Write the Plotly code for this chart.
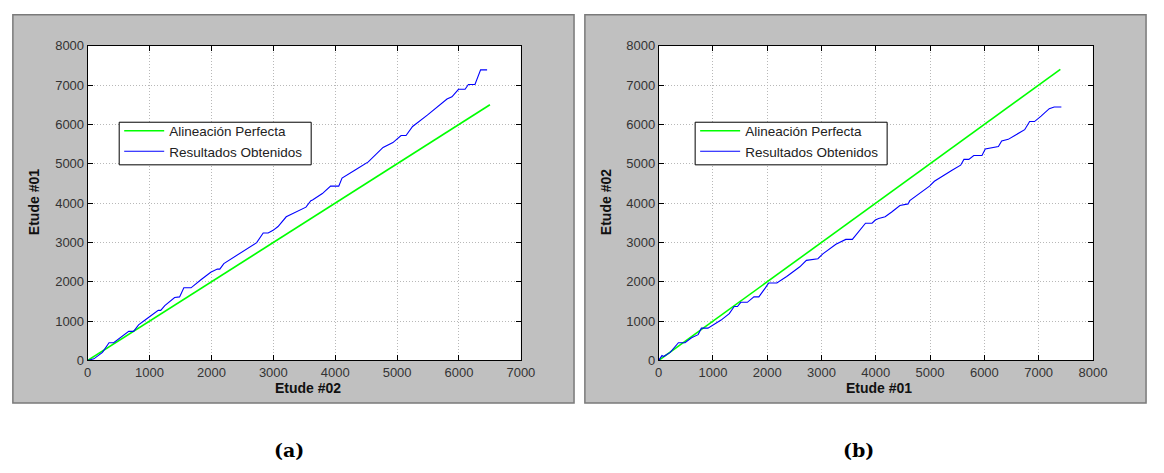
import plotly.graph_objects as go

W, H = 1164, 473

# ---------------- data ----------------
# Panel (a): x = Etude #02, y = Etude #01
perfect_a_x = [0, 6500]
perfect_a_y = [0, 6500]
res_a_x = [0, 100, 239, 345, 420, 583, 663, 742, 822, 928, 1140, 1180, 1246, 1405, 1485,
           1554, 1670, 1830, 1988, 2095, 2135, 2200, 2360, 2572, 2731, 2836, 2916, 2996,
           3076, 3208, 3420, 3527, 3606, 3633, 3792, 3925, 4057, 4110, 4322, 4534, 4773,
           4932, 5064, 5144, 5250, 5488, 5806, 5886, 5992, 6098, 6152, 6258, 6349, 6454]
res_a_y = [0, 40, 205, 451, 450, 656, 738, 738, 903, 1026, 1272, 1272, 1395, 1600, 1615,
           1846, 1846, 2051, 2240, 2322, 2322, 2462, 2626, 2848, 2995, 3241, 3241, 3307,
           3405, 3651, 3815, 3897, 4062, 4078, 4242, 4431, 4431, 4636, 4841, 5046, 5415,
           5538, 5719, 5719, 5948, 6236, 6646, 6703, 6892, 6892, 7015, 7015, 7385, 7385]

# Panel (b): x = Etude #01, y = Etude #02
perfect_b_x = [0, 7400]
perfect_b_y = [0, 7400]
res_b_x = [0, 60, 90, 212, 363, 484, 605, 726, 786, 907, 1149, 1300, 1391, 1451, 1512,
           1633, 1754, 1845, 1965, 2026, 2177, 2358, 2600, 2721, 2933, 3024, 3265, 3447,
           3568, 3689, 3810, 3931, 3991, 4052, 4172, 4293, 4444, 4595, 4626, 4989, 5079,
           5412, 5563, 5624, 5714, 5805, 5956, 6017, 6259, 6319, 6440, 6561, 6743, 6834,
           6924, 7045, 7196, 7287, 7419]
res_b_y = [0, 123, 100, 205, 451, 451, 574, 656, 820, 820, 1026, 1190, 1370, 1370, 1477,
           1477, 1616, 1616, 1846, 1969, 1969, 2133, 2380, 2544, 2585, 2708, 2954, 3077,
           3077, 3282, 3487, 3487, 3569, 3610, 3651, 3774, 3938, 3979, 4062, 4431, 4554,
           4841, 4964, 5110, 5110, 5210, 5210, 5374, 5440, 5579, 5620, 5719, 5866, 6072,
           6072, 6212, 6400, 6441, 6441]

x_ticks_a = [0, 1000, 2000, 3000, 4000, 5000, 6000, 7000]
x_ticks_b = [0, 1000, 2000, 3000, 4000, 5000, 6000, 7000, 8000]
y_ticks = [0, 1000, 2000, 3000, 4000, 5000, 6000, 7000, 8000]

name_perfect = "Alineación Perfecta"
name_result = "Resultados Obtenidos"

# ---------------- helpers ----------------
def px(x):
    return x / W

def py(y):
    return 1 - y / H

GREEN = "#00ff00"
BLUE = "#0000ff"
FONT = "Liberation Sans, Arial, sans-serif"

fig = go.Figure()

fig.add_trace(go.Scatter(x=perfect_a_x, y=perfect_a_y, mode="lines", name=name_perfect,
                         line=dict(color=GREEN, width=1.6), xaxis="x", yaxis="y", legend="legend"))
fig.add_trace(go.Scatter(x=res_a_x, y=res_a_y, mode="lines", name=name_result,
                         line=dict(color=BLUE, width=1.1), xaxis="x", yaxis="y", legend="legend"))
fig.add_trace(go.Scatter(x=perfect_b_x, y=perfect_b_y, mode="lines", name=name_perfect,
                         line=dict(color=GREEN, width=1.6), xaxis="x2", yaxis="y2", legend="legend2"))
fig.add_trace(go.Scatter(x=res_b_x, y=res_b_y, mode="lines", name=name_result,
                         line=dict(color=BLUE, width=1.1), xaxis="x2", yaxis="y2", legend="legend2"))

axis_common = dict(
    showline=True, linecolor="#000000", linewidth=1, mirror="ticks",
    ticks="inside", ticklen=5, tickcolor="#000000",
    showgrid=True, gridcolor="#b8b8b8", griddash="1px,2px", gridwidth=1,
    zeroline=False, tickfont=dict(family=FONT, size=13, color="#333333"),
    fixedrange=True,
)

ydom = [py(365), py(40)]
legend_common = dict(xanchor="left", yanchor="top",
                     bgcolor="rgba(0,0,0,0)", borderwidth=0,
                     font=dict(family=FONT, size=13.5, color="#222222"),
                     tracegroupgap=0, itemwidth=40)

fig.update_layout(
    width=W, height=H,
    margin=dict(l=0, r=0, t=0, b=0),
    paper_bgcolor="#ffffff",
    plot_bgcolor="#ffffff",
    xaxis=dict(domain=[px(85), px(525)], range=[0, 7000], tickvals=x_ticks_a,
               anchor="y", **axis_common),
    yaxis=dict(domain=ydom, range=[0, 8000], tickvals=y_ticks, anchor="x", **axis_common),
    xaxis2=dict(domain=[px(665), px(1106)], range=[0, 8000], tickvals=x_ticks_b,
                anchor="y2", **axis_common),
    yaxis2=dict(domain=ydom, range=[0, 8000], tickvals=y_ticks, anchor="x2", **axis_common),
    legend=dict(x=px(117), y=py(112), **legend_common),
    legend2=dict(x=px(702), y=py(112), **legend_common),
    showlegend=True,
)

# gray figure backgrounds (MATLAB-style figure panels) and white axes areas
for (x0, x1), (ax0, ax1) in [((9, 579), (85, 525)), ((590, 1160), (665, 1106))]:
    fig.add_shape(type="rect", xref="paper", yref="paper",
                  x0=px(x0), x1=px(x1), y0=py(409), y1=py(8),
                  fillcolor="#c0c0c0", line=dict(color="#7a7a7a", width=1.5),
                  layer="below")
    fig.add_shape(type="rect", xref="paper", yref="paper",
                  x0=px(ax0), x1=px(ax1), y0=py(365), y1=py(40),
                  fillcolor="#ffffff", line=dict(width=0), layer="below")

# legend frames
for lx0, lx1 in [(117, 312), (702, 897)]:
    fig.add_shape(type="rect", xref="paper", yref="paper",
                  x0=px(lx0), x1=px(lx1), y0=py(163), y1=py(119),
                  fillcolor="#ffffff", line=dict(color="#000000", width=1),
                  layer="above")

title_font = dict(family=FONT, size=14, color="#111111")
annos = [
    dict(text="<b>Etude #02</b>", x=px(309), y=py(393), font=title_font),
    dict(text="<b>Etude #01</b>", x=px(30), y=py(202), font=title_font, textangle=-90),
    dict(text="<b>Etude #01</b>", x=px(889), y=py(393), font=title_font),
    dict(text="<b>Etude #02</b>", x=px(611), y=py(202), font=title_font, textangle=-90),
    dict(text="<b>(a)</b>", x=px(289), y=py(458),
         font=dict(family="DejaVu Serif, serif", size=19, color="#000000")),
    dict(text="<b>(b)</b>", x=px(868), y=py(458),
         font=dict(family="DejaVu Serif, serif", size=19, color="#000000")),
]
for a in annos:
    fig.add_annotation(xref="paper", yref="paper", showarrow=False,
                       xanchor="center", yanchor="middle", **a)

fig.write_html("out.html")
